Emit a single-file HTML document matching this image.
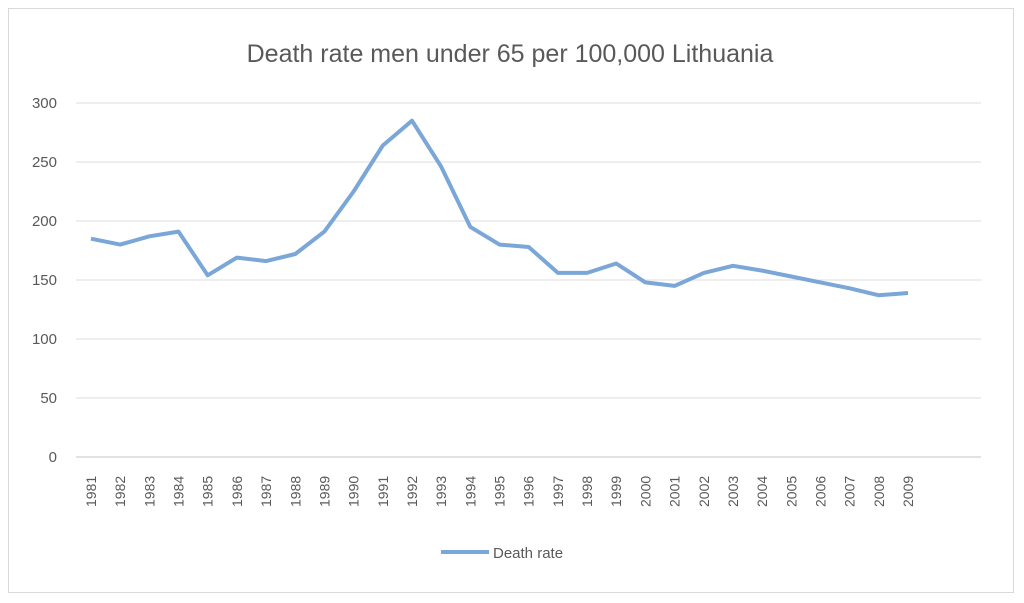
<!DOCTYPE html>
<html><head><style>
body{margin:0;background:#fff;}
svg{display:block;font-family:"Liberation Sans",sans-serif;}
</style></head><body>
<svg width="1024" height="603" viewBox="0 0 1024 603">
<rect x="8.5" y="8.5" width="1005" height="584" fill="#fff" stroke="#d9d9d9"/>
<text x="510" y="62" font-size="25" fill="#595959" text-anchor="middle">Death rate men under 65 per 100,000 Lithuania</text>
<g stroke="#e3e3e3" stroke-width="1.3">
<line x1="76" x2="981" y1="103" y2="103"/>
<line x1="76" x2="981" y1="162" y2="162"/>
<line x1="76" x2="981" y1="221" y2="221"/>
<line x1="76" x2="981" y1="280" y2="280"/>
<line x1="76" x2="981" y1="339" y2="339"/>
<line x1="76" x2="981" y1="398" y2="398"/>
<line x1="76" x2="981" y1="457" y2="457" stroke="#d0d0d0"/>
</g>
<g font-size="15" fill="#595959" text-anchor="end">
<text x="57" y="108">300</text><text x="57" y="167">250</text><text x="57" y="226">200</text>
<text x="57" y="285">150</text><text x="57" y="344">100</text><text x="57" y="403">50</text><text x="57" y="462">0</text>
</g>
<g font-size="14" fill="#595959">
<text transform="translate(96,507) rotate(-90)">1981</text>
<text transform="translate(125.2,507) rotate(-90)">1982</text>
<text transform="translate(154.4,507) rotate(-90)">1983</text>
<text transform="translate(183.5,507) rotate(-90)">1984</text>
<text transform="translate(212.7,507) rotate(-90)">1985</text>
<text transform="translate(241.9,507) rotate(-90)">1986</text>
<text transform="translate(271.1,507) rotate(-90)">1987</text>
<text transform="translate(300.3,507) rotate(-90)">1988</text>
<text transform="translate(329.4,507) rotate(-90)">1989</text>
<text transform="translate(358.6,507) rotate(-90)">1990</text>
<text transform="translate(387.8,507) rotate(-90)">1991</text>
<text transform="translate(417,507) rotate(-90)">1992</text>
<text transform="translate(446.2,507) rotate(-90)">1993</text>
<text transform="translate(475.3,507) rotate(-90)">1994</text>
<text transform="translate(504.5,507) rotate(-90)">1995</text>
<text transform="translate(533.7,507) rotate(-90)">1996</text>
<text transform="translate(562.9,507) rotate(-90)">1997</text>
<text transform="translate(592.1,507) rotate(-90)">1998</text>
<text transform="translate(621.2,507) rotate(-90)">1999</text>
<text transform="translate(650.4,507) rotate(-90)">2000</text>
<text transform="translate(679.6,507) rotate(-90)">2001</text>
<text transform="translate(708.8,507) rotate(-90)">2002</text>
<text transform="translate(738,507) rotate(-90)">2003</text>
<text transform="translate(767.1,507) rotate(-90)">2004</text>
<text transform="translate(796.3,507) rotate(-90)">2005</text>
<text transform="translate(825.5,507) rotate(-90)">2006</text>
<text transform="translate(854.7,507) rotate(-90)">2007</text>
<text transform="translate(883.9,507) rotate(-90)">2008</text>
<text transform="translate(913,507) rotate(-90)">2009</text>
</g>
<polyline fill="none" stroke="#7aa6d8" stroke-width="4" stroke-linejoin="round" points="91,238.7 120.2,244.6 149.4,236.3 178.5,231.6 207.7,275.3 236.9,257.6 266.1,261.1 295.3,254 324.4,231.6 353.6,191.5 382.8,145.5 412,120.7 441.2,166.7 470.3,226.9 499.5,244.6 528.7,247 557.9,272.9 587.1,272.9 616.2,263.5 645.4,282.4 674.6,285.9 703.8,272.9 733,265.8 762.1,270.6 791.3,276.5 820.5,282.4 849.7,288.3 878.9,295.3 908,293"/>
<line x1="441" x2="489" y1="552" y2="552" stroke="#7aa6d8" stroke-width="4"/>
<text x="493" y="558" font-size="15" fill="#595959">Death rate</text>
</svg>
</body></html>
